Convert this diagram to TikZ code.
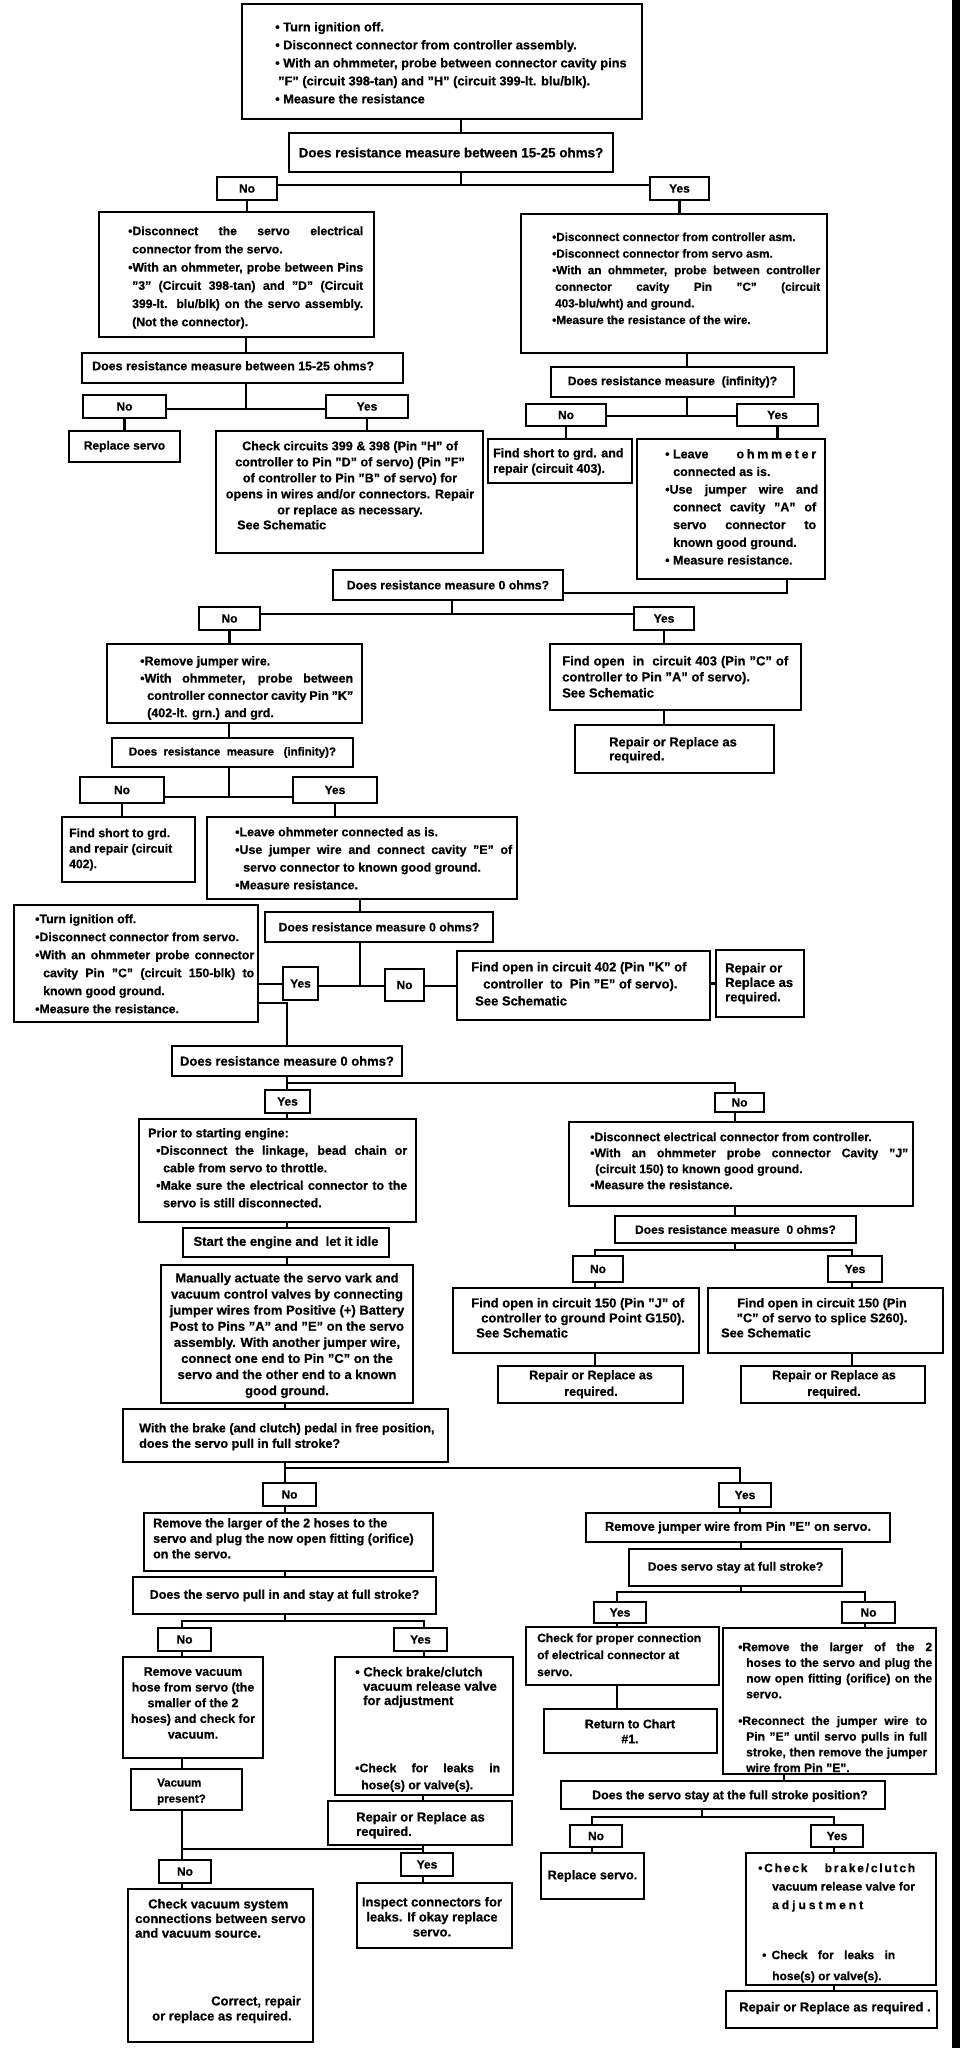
\documentclass[tikz,border=0pt]{standalone}
\usepackage{fontspec}
\setmainfont{Liberation Sans}[BoldFeatures={FakeBold=0.7}]
\newcommand\J[2]{\makebox[#1pt][s]{#2}}
\newcommand\bx[5]{\node[box, minimum width={(#4-#2)*1pt}, minimum height={(#5-#3)*1pt}] (#1) at ({(#2+#4)/2},{(#3+#5)/2}) {};}
\newcommand\bxt[7]{\node[box, font={\bfseries\fontsize{#6}{#6}\selectfont}, minimum width={(#4-#2)*1pt}, minimum height={(#5-#3)*1pt}] (#1) at ({(#2+#4)/2},{(#3+#5)/2}) {#7};}
\newcommand\lb[6]{\bxt{#1}{#2}{#3}{#4}{#5}{12}{#6}}
\newcommand\tL[6]{\node[txt, align=left, anchor=north west, font={\bfseries\fontsize{#4}{#5}\selectfont}] (#1) at (#2,{#3-0.4*#4}) {#6};}
\newcommand\tC[6]{\node[txt, align=center, anchor=north, font={\bfseries\fontsize{#4}{#5}\selectfont}] (#1) at (#2,{#3-0.4*#4}) {#6};}
\tikzset{
 box/.style={draw, line width=2.6pt, inner sep=0pt},
 txt/.style={inner sep=0pt},
 ln/.style={line width=2.6pt},
}
\begin{document}
\begin{tikzpicture}[x=1pt,y=-1pt]
\fill[white] (0,0) rectangle (960,2048);
\useasboundingbox (0,0) rectangle (960,2048);
\fill[black] (952,0) rectangle (960,2048);
% ---------- boxes ----------
\bx{top}{242}{4}{642}{119}
\bxt{q1}{289}{133}{613}{172}{13.4}{Does resistance measure between 15-25 ohms?}
\lb{no1}{217}{177}{277}{200}{No}
\lb{yes1}{650}{177}{709}{200}{Yes}
\bx{noA}{99}{212}{374}{337}
\bx{yesA}{521}{214}{827}{353}
\bx{q2}{82}{353}{403}{383}
\lb{no2}{83}{395}{166}{418}{No}
\lb{yes2}{326}{395}{408}{418}{Yes}
\bxt{replS}{69}{431}{180}{462}{12}{Replace servo}
\bx{checkC}{216}{431}{483}{553}
\bxt{q3}{551}{367}{794}{397}{12.2}{Does resistance measure\ \ (infinity)?}
\lb{no3}{526}{404}{606}{426}{No}
\lb{yes3}{737}{404}{818}{426}{Yes}
\bx{fs403}{488}{439}{632}{483}
\bx{lo1}{637}{439}{825}{579}
\bxt{q4}{333}{570}{563}{600}{12.3}{Does resistance measure 0 ohms?}
\lb{no4}{199}{607}{260}{630}{No}
\lb{yes4}{634}{607}{694}{630}{Yes}
\bx{fo403}{550}{644}{801}{710}
\bx{rep1}{575}{725}{774}{773}
\bx{rj}{107}{644}{362}{723}
\bxt{q5}{112}{738}{353}{767}{11.5}{Does\ \ resistance\ \ measure\ \ \ (infinity)?}
\lb{no5}{80}{777}{164}{803}{No}
\lb{yes5}{293}{777}{377}{803}{Yes}
\bx{fs402}{62}{817}{195}{882}
\bx{lo2}{207}{817}{517}{899}
\bxt{q6}{265}{912}{493}{942}{12.2}{Does resistance measure 0 ohms?}
\lb{yes6}{283}{967}{318}{1000}{Yes}
\lb{no6}{385}{969}{424}{1001}{No}
\bx{fo402}{457}{951}{710}{1020}
\bx{rep2}{716}{950}{804}{1017}
\bx{ti2}{14}{905}{258}{1022}
\bxt{q7}{172}{1046}{402}{1076}{13}{Does resistance measure 0 ohms?}
\lb{yes7}{265}{1090}{310}{1113}{Yes}
\lb{no7}{715}{1093}{764}{1112}{No}
\bx{prior}{139}{1119}{416}{1222}
\bxt{start}{183}{1228}{389}{1257}{13}{Start the engine and\ \ let it idle}
\bx{manual}{161}{1265}{413}{1403}
\bx{de}{569}{1122}{913}{1206}
\bxt{q8}{615}{1216}{856}{1243}{12}{Does resistance measure\ \ 0 ohms?}
\lb{no8}{573}{1256}{623}{1282}{No}
\lb{yes8}{828}{1256}{882}{1282}{Yes}
\bx{fo150a}{453}{1288}{699}{1353}
\bx{fo150b}{708}{1288}{943}{1353}
\bx{rep3}{498}{1366}{683}{1403}
\bx{rep4}{741}{1366}{925}{1403}
\bx{wb}{123}{1409}{448}{1462}
\lb{no9}{263}{1483}{316}{1506}{No}
\lb{yes9}{719}{1483}{771}{1507}{Yes}
\bx{rl}{144}{1513}{433}{1571}
\bxt{q10}{133}{1577}{436}{1614}{12.5}{Does the servo pull in and stay at full stroke?}
\lb{no10}{158}{1628}{211}{1651}{No}
\lb{yes10}{394}{1628}{447}{1651}{Yes}
\bx{rv}{123}{1657}{263}{1758}
\bx{cb1}{335}{1657}{513}{1795}
\bx{rep5}{328}{1801}{512}{1845}
\bx{vac}{131}{1769}{242}{1810}
\lb{no11}{159}{1860}{211}{1883}{No}
\lb{yes11}{401}{1853}{453}{1876}{Yes}
\bx{cv}{128}{1889}{313}{2042}
\bx{insp}{357}{1883}{512}{1948}
\bxt{rje}{586}{1513}{890}{1542}{12.8}{Remove jumper wire from Pin "E" on servo.}
\bxt{q12}{629}{1549}{842}{1586}{12.1}{Does servo stay at full stroke?}
\lb{yes12}{594}{1602}{646}{1623}{Yes}
\lb{no12}{842}{1602}{895}{1623}{No}
\bx{cp}{526}{1627}{719}{1685}
\bx{rc}{544}{1709}{717}{1753}
\bx{rl2}{723}{1628}{936}{1774}
\bx{q13}{561}{1781}{885}{1809}
\lb{no13}{570}{1825}{622}{1847}{No}
\lb{yes13}{811}{1825}{863}{1847}{Yes}
\bxt{rs2}{541}{1853}{644}{1899}{12.7}{Replace servo.}
\bx{cb2}{746}{1853}{936}{1985}
\bx{rep6}{726}{1991}{937}{2028}
% ---------- texts ----------
\tL{t1}{275}{27}{12.8}{18}{• Turn ignition off.\\ • Disconnect connector from controller assembly.\\ • With an ohmmeter, probe between connector cavity pins\\ \hspace*{3pt}"F" (circuit 398-tan) and "H" (circuit 399-lt. blu/blk).\\ • Measure the resistance}
\tL{t2}{128}{231}{12.2}{18.2}{\J{235}{•Disconnect the servo electrical}\\ \hspace*{4pt}connector from the servo.\\ \J{235}{•With an ohmmeter, probe between Pins}\\ \hspace*{4pt}\J{231}{"3" (Circuit 398-tan) and "D" (Circuit}\\ \hspace*{4pt}\J{231}{399-lt. blu/blk) on the servo assembly.}\\ \hspace*{4pt}(Not the connector).}
\tL{t3}{552}{237}{11.7}{16.6}{•Disconnect connector from controller asm.\\ •Disconnect connector from servo asm.\\ \J{268}{•With an ohmmeter, probe between controller}\\ \hspace*{3pt}\J{265}{connector cavity Pin "C" (circuit}\\ \hspace*{3pt}403-blu/wht) and ground.\\ •Measure the resistance of the wire.}
\tL{t4}{92}{366}{12.4}{15}{Does resistance measure between 15-25 ohms?}
\tC{t5}{350}{446}{12.6}{16}{Check circuits 399 \& 398 (Pin "H" of\\ controller to Pin "D" of servo) (Pin "F"\\ of controller to Pin "B" of servo) for\\ opens in wires and/or connectors. Repair\\ or replace as necessary.}
\tL{t5b}{237}{525}{12.6}{15}{See Schematic}
\tL{t6}{493}{453}{12.5}{15.5}{Find short to grd. and\\ repair (circuit 403).}
\tL{t7}{665}{454}{12.5}{17.7}{\makebox[151pt][l]{• Leave\hfill{\addfontfeatures{LetterSpace=22}ohmmeter}}\\ \hspace*{8pt}connected as is.\\ \J{153}{•Use jumper wire and}\\ \hspace*{8pt}\J{143}{connect cavity "A" of}\\ \hspace*{8pt}\J{143}{servo connector to}\\ \hspace*{8pt}known good ground.\\ • Measure resistance.}
\tL{t8}{562}{661}{13}{16}{\J{226}{Find open\ \ in\ \ circuit 403 (Pin "C" of}\\ controller to Pin "A" of servo).\\ See Schematic}
\tL{t9}{609}{742}{12.9}{14}{Repair or Replace as\\ required.}
\tL{t10}{140}{661}{12.5}{17.3}{•Remove jumper wire.\\ \J{213}{•With ohmmeter, probe between}\\ \hspace*{7pt}\J{206}{controller connector cavity Pin "K"}\\ \hspace*{7pt}(402-lt. grn.) and grd.}
\tL{t11}{69}{833}{12.2}{15.5}{Find short to grd.\\ and repair (circuit\\ 402).}
\tL{t12}{235}{832}{12.4}{17.7}{•Leave ohmmeter connected as is.\\ \J{277}{•Use jumper wire and connect cavity "E" of}\\ \hspace*{8pt}servo connector to known good ground.\\ •Measure resistance.}
\tL{t13}{471}{967}{13}{17}{Find open in circuit 402 (Pin "K" of\\ \hspace*{12pt}controller\ \ to\ \ Pin "E" of servo).\\ \hspace*{4pt}See Schematic}
\tL{t14}{725}{968}{13}{14.5}{Repair or\\ Replace as\\ required.}
\tL{t15}{35}{919}{12.3}{18}{•Turn ignition off.\\ •Disconnect connector from servo.\\ \J{219}{•With an ohmmeter probe connector}\\ \hspace*{8pt}\J{211}{cavity Pin "C" (circuit 150-blk) to}\\ \hspace*{8pt}known good ground.\\ •Measure the resistance.}
\tL{t16}{148}{1133}{12.4}{17.5}{Prior to starting engine:\\ \hspace*{8pt}\J{251}{•Disconnect the linkage, bead chain or}\\ \hspace*{15pt}cable from servo to throttle.\\ \hspace*{8pt}\J{251}{•Make sure the electrical connector to the}\\ \hspace*{15pt}servo is still disconnected.}
\tC{t17}{287}{1278}{13}{16.1}{Manually actuate the servo vark and\\ vacuum control valves by connecting\\ jumper wires from Positive (+) Battery\\ Post to Pins "A" and "E" on the servo\\ assembly. With another jumper wire,\\ connect one end to Pin "C" on the\\ servo and the other end to a known\\ good ground.}
\tL{t18}{590}{1137}{12.2}{16}{•Disconnect electrical connector from controller.\\ \J{318}{•With an ohmmeter probe connector Cavity "J"}\\ \hspace*{5pt}(circuit 150) to known good ground.\\ •Measure the resistance.}
\tL{t19}{471}{1303}{13}{15}{Find open in circuit 150 (Pin "J" of\\ \hspace*{10pt}controller to ground Point G150).\\ \hspace*{5pt}See Schematic}
\tC{t20}{822}{1303}{12.7}{15}{Find open in circuit 150 (Pin\\ "C" of servo to splice S260).}
\tL{t20b}{721}{1333}{12.7}{15}{See Schematic}
\tC{t21}{591}{1375}{12.5}{16.5}{Repair or Replace as\\ required.}
\tC{t22}{834}{1375}{12.5}{16.5}{Repair or Replace as\\ required.}
\tL{t23}{139}{1428}{12.6}{15.5}{With the brake (and clutch) pedal in free position,\\ does the servo pull in full stroke?}
\tL{t24}{153}{1523}{12.5}{15.5}{Remove the larger of the 2 hoses to the\\ servo and plug the now open fitting (orifice)\\ on the servo.}
\tC{t25}{193}{1672}{12.4}{15.7}{Remove vacuum\\ hose from servo (the\\ smaller of the 2\\ hoses) and check for\\ vacuum.}
\tL{t26}{355}{1672}{13}{14.3}{• Check brake/clutch\\ \hspace*{8pt}vacuum release valve\\ \hspace*{8pt}for adjustment}
\tL{t26b}{355}{1768}{12.3}{17}{\J{145}{•Check\ \ for\ \ leaks\ \ in}\\ \hspace*{6pt}hose(s) or valve(s).}
\tL{t27}{356}{1817}{13}{14.5}{Repair or Replace as\\ required.}
\tL{t28}{157}{1783}{11.5}{16}{Vacuum\\ present?}
\tL{t29}{135}{1904}{13}{14.6}{\hspace*{13pt}Check vacuum system\\ connections between servo\\ and vacuum source.}
\tL{t29b}{152}{2001}{13}{15}{\hspace*{59pt}Correct, repair\\ or replace as required.}
\tC{t30}{432}{1902}{13}{15}{Inspect connectors for\\ leaks. If okay replace\\ servo.}
\tL{t31}{537}{1638}{12}{17}{Check for proper connection\\ of electrical connector at\\ servo.}
\tC{t32}{630}{1724}{12.3}{15}{Return to Chart\\ \#1.}
\tL{t33}{738}{1647}{12.1}{15.7}{\J{194}{•Remove the larger of the 2}\\ \hspace*{8pt}\J{186}{hoses to the servo and plug the}\\ \hspace*{8pt}\J{186}{now open fitting (orifice) on the}\\ \hspace*{8pt}servo.\\[11pt] \J{189}{•Reconnect the jumper wire to}\\ \hspace*{8pt}\J{181}{Pin "E" until servo pulls in full}\\ \hspace*{8pt}\J{181}{stroke, then remove the jumper}\\ \hspace*{8pt}wire from Pin "E".}
\tC{t34}{730}{1795}{12.4}{15}{Does the servo stay at the full stroke position?}
\tL{t35}{758}{1868}{12}{18.5}{\J{157}{{\addfontfeatures{LetterSpace=15}•Check\ \ brake/clutch}}\\ \hspace*{14pt}vacuum release valve for\\ \hspace*{14pt}{\addfontfeatures{LetterSpace=25}adjustment}}
\tL{t35b}{762}{1955}{12}{21}{\J{133}{• Check\ \ for\ \ leaks\ \ in}\\ \hspace*{10pt}hose(s) or valve(s).}
\tL{t36}{739}{2007}{13}{15}{Repair or Replace as required .}
% ---------- connectors ----------
\begin{scope}[ln]
\coordinate (a1) at (461,185);
\draw (top.south -| a1) -- (q1.north -| a1);
\draw (q1.south -| a1) -- (a1);
\draw (no1.east |- a1) -- (yes1.west |- a1);
\draw (no1.south) -- (no1.south |- noA.north);
\draw (yes1.south) -- (yes1.south |- yesA.north);
\coordinate (a2) at (246,409);
\draw (a2 |- noA.south) -- (a2 |- q2.north);
\draw (q2.south -| a2) -- (a2);
\draw (no2.east |- a2) -- (yes2.west |- a2);
\draw (no2.south) -- (no2.south |- replS.north);
\draw (yes2.south) -- (yes2.south |- checkC.north);
\coordinate (a3) at (687,416);
\draw (a3 |- yesA.south) -- (a3 |- q3.north);
\draw (q3.south -| a3) -- (a3);
\draw (no3.east |- a3) -- (yes3.west |- a3);
\draw (no3.south) -- (no3.south |- fs403.north);
\draw (yes3.south) -- (yes3.south |- lo1.north);
\coordinate (a4) at (787,593);
\draw (a4 |- lo1.south) -- (a4) -- (a4 -| q4.east);
\coordinate (a5) at (452,614);
\draw (q4.south -| a5) -- (a5);
\draw (no4.east |- a5) -- (yes4.west |- a5);
\draw (yes4.south) -- (yes4.south |- fo403.north);
\draw (yes4.south |- fo403.south) -- (yes4.south |- rep1.north);
\draw (no4.south) -- (no4.south |- rj.north);
\coordinate (a6) at (229,797);
\draw (a6 |- rj.south) -- (a6 |- q5.north);
\draw (q5.south -| a6) -- (a6);
\draw (no5.east |- a6) -- (yes5.west |- a6);
\draw (no5.south) -- (no5.south |- fs402.north);
\draw (yes5.south) -- (yes5.south |- lo2.north);
\coordinate (a7) at (360,986);
\draw (a7 |- lo2.south) -- (a7 |- q6.north);
\draw (q6.south -| a7) -- (a7);
\draw (yes6.east |- a7) -- (no6.west |- a7);
\draw (no6.east |- a7) -- (fo402.west |- a7);
\draw (fo402.east |- rep2.west) -- (rep2.west);
\coordinate (a8) at (270,984);
\draw (ti2.east |- a8) -- (yes6.west |- a8);
\coordinate (a9) at (287,1003);
\draw (ti2.east |- a9) -- (a9) -- (a9 |- q7.north);
\coordinate (a10) at (735,1083);
\draw (a9 |- q7.south) -- (a9 |- yes7.north);
\draw (a9 |- a10) -- (a10) -- (a10 |- no7.north);
\draw (a9 |- yes7.south) -- (a9 |- prior.north);
\draw (a9 |- prior.south) -- (a9 |- start.north);
\draw (a9 |- start.south) -- (a9 |- manual.north);
\draw (a10 |- no7.south) -- (a10 |- de.north);
\draw (a10 |- de.south) -- (a10 |- q8.north);
\coordinate (a11) at (735,1250);
\coordinate (b11) at (595,1250);
\coordinate (c11) at (852,1250);
\draw (q8.south -| a11) -- (a11);
\draw (b11 |- no8.north) -- (b11) -- (c11) -- (c11 |- yes8.north);
\draw (b11 |- no8.south) -- (b11 |- fo150a.north);
\draw (c11 |- yes8.south) -- (c11 |- fo150b.north);
\draw (b11 |- fo150a.south) -- (b11 |- rep3.north);
\draw (c11 |- fo150b.south) -- (c11 |- rep4.north);
\coordinate (a12) at (285,1468);
\coordinate (b12) at (740,1468);
\draw (a12 |- manual.south) -- (a12 |- wb.north);
\draw (a12 |- wb.south) -- (a12) -- (b12) -- (b12 |- yes9.north);
\draw (a12) -- (a12 |- no9.north);
\draw (a12 |- no9.south) -- (a12 |- rl.north);
\draw (a12 |- rl.south) -- (a12 |- q10.north);
\coordinate (a13) at (285,1621);
\coordinate (b13) at (182,1621);
\coordinate (c13) at (424,1621);
\draw (q10.south -| a13) -- (a13);
\draw (b13 |- no10.north) -- (b13) -- (c13) -- (c13 |- yes10.north);
\draw (b13 |- no10.south) -- (b13 |- rv.north);
\draw (c13 |- yes10.south) -- (c13 |- cb1.north);
\draw (b13 |- rv.south) -- (b13 |- vac.north);
\coordinate (a14) at (182,1849);
\coordinate (b14) at (423,1849);
\draw (a14 |- vac.south) -- (a14) -- (b14);
\draw (a14) -- (a14 |- no11.north);
\draw (b14 |- cb1.south) -- (b14 |- rep5.north);
\draw (b14 |- rep5.south) -- (b14 |- yes11.north);
\draw (a14 |- no11.south) -- (a14 |- cv.north);
\draw (b14 |- yes11.south) -- (b14 |- insp.north);
\draw (b12 |- yes9.south) -- (b12 |- rje.north);
\coordinate (a15) at (741,1592);
\coordinate (b15) at (617,1592);
\coordinate (c15) at (865,1592);
\draw (a15 |- rje.south) -- (a15 |- q12.north);
\draw (q12.south -| a15) -- (a15);
\draw (b15 |- yes12.north) -- (b15) -- (c15) -- (c15 |- no12.north);
\draw (b15 |- yes12.south) -- (b15 |- cp.north);
\draw (b15 |- cp.south) -- (b15 |- rc.north);
\draw (c15 |- no12.south) -- (c15 |- rl2.north);
\coordinate (a16) at (784,1781);
\draw (a16 |- rl2.south) -- (a16 |- q13.north);
\coordinate (a17) at (702,1817);
\coordinate (b17) at (592,1817);
\coordinate (c17) at (834,1817);
\draw (q13.south -| a17) -- (a17);
\draw (b17 |- no13.north) -- (b17) -- (c17) -- (c17 |- yes13.north);
\draw (b17 |- no13.south) -- (b17 |- rs2.north);
\draw (c17 |- yes13.south) -- (c17 |- cb2.north);
\draw (c17 |- cb2.south) -- (c17 |- rep6.north);
\end{scope}
\end{tikzpicture}
\end{document}
